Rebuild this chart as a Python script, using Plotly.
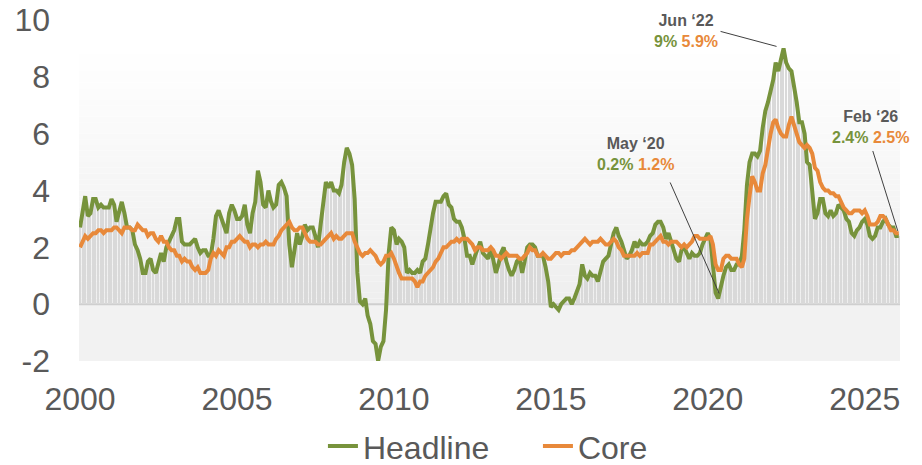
import numpy as np
import pandas as pd
import plotly.graph_objects as go

# ---- data (YoY %, monthly, Jan 2000 - Feb 2026) ----
headline = [
    2.7, 3.2, 3.8, 3.1, 3.2, 3.7, 3.7, 3.4, 3.5, 3.4, 3.4, 3.4,   # 2000
    3.7, 3.5, 2.9, 3.3, 3.6, 3.2, 2.7, 2.7, 2.6, 2.1, 1.9, 1.6,   # 2001
    1.1, 1.1, 1.5, 1.6, 1.2, 1.1, 1.5, 1.8, 1.5, 2.0, 2.2, 2.4,   # 2002
    2.6, 3.0, 3.0, 2.2, 2.1, 2.1, 2.1, 2.2, 2.3, 2.0, 1.8, 1.9,   # 2003
    1.9, 1.7, 1.7, 2.3, 3.1, 3.3, 3.0, 2.7, 2.5, 3.2, 3.5, 3.3,   # 2004
    3.0, 3.0, 3.1, 3.5, 2.8, 2.5, 3.2, 3.6, 4.7, 4.3, 3.5, 3.4,   # 2005
    4.0, 3.6, 3.4, 3.5, 4.2, 4.3, 4.1, 3.8, 2.1, 1.3, 2.0, 2.5,   # 2006
    2.1, 2.4, 2.8, 2.6, 2.7, 2.7, 2.4, 2.0, 2.8, 3.5, 4.3, 4.1,   # 2007
    4.3, 4.0, 4.0, 3.9, 4.2, 5.0, 5.5, 5.3, 4.9, 3.7, 1.1, 0.1,   # 2008
    0.0, 0.2, -0.4, -0.7, -1.3, -1.4, -2.0, -1.5, -1.3, -0.2, 1.8, 2.7,  # 2009
    2.6, 2.1, 2.3, 2.2, 2.0, 1.1, 1.2, 1.1, 1.1, 1.2, 1.1, 1.5,   # 2010
    1.6, 2.1, 2.7, 3.2, 3.6, 3.6, 3.6, 3.8, 3.9, 3.5, 3.4, 3.0,   # 2011
    2.9, 2.9, 2.7, 2.3, 1.7, 1.7, 1.4, 1.7, 2.0, 2.2, 1.8, 1.7,   # 2012
    1.6, 2.0, 1.5, 1.1, 1.4, 1.8, 2.0, 1.5, 1.2, 1.0, 1.2, 1.5,   # 2013
    1.6, 1.1, 1.5, 2.0, 2.1, 2.1, 2.0, 1.7, 1.7, 1.7, 1.3, 0.8,   # 2014
    -0.1, 0.0, -0.1, -0.2, 0.0, 0.1, 0.2, 0.2, 0.0, 0.2, 0.5, 0.7,  # 2015
    1.4, 1.0, 0.9, 1.1, 1.0, 1.0, 0.8, 1.1, 1.5, 1.6, 1.7, 2.1,   # 2016
    2.5, 2.7, 2.4, 2.2, 1.9, 1.6, 1.7, 1.9, 2.2, 2.0, 2.2, 2.1,   # 2017
    2.1, 2.2, 2.4, 2.5, 2.8, 2.9, 2.9, 2.7, 2.3, 2.5, 2.2, 1.9,   # 2018
    1.6, 1.5, 1.9, 2.0, 1.8, 1.6, 1.8, 1.7, 1.7, 1.8, 2.1, 2.3,   # 2019
    2.5, 2.3, 1.5, 0.4, 0.2, 0.7, 1.0, 1.3, 1.4, 1.2, 1.2, 1.4,   # 2020
    1.4, 1.7, 2.6, 4.2, 5.0, 5.3, 5.3, 5.2, 5.4, 6.2, 6.8, 7.1,   # 2021
    7.5, 7.9, 8.5, 8.2, 8.6, 9.0, 8.5, 8.3, 8.2, 7.7, 7.1, 6.4,   # 2022
    6.4, 6.0, 5.0, 4.9, 4.0, 3.0, 3.2, 3.7, 3.7, 3.2, 3.1, 3.3,   # 2023
    3.1, 3.2, 3.5, 3.4, 3.3, 3.0, 2.9, 2.5, 2.4, 2.6, 2.7, 2.9,   # 2024
    3.0, 2.8, 2.4, 2.3, 2.4, 2.7, 2.7, 2.9, 3.0, 2.8, 2.7, 2.7,   # 2025
    2.4, 2.4,                                                     # 2026
]
core = [
    2.0, 2.2, 2.4, 2.3, 2.4, 2.5, 2.5, 2.6, 2.6, 2.5, 2.6, 2.6,   # 2000
    2.6, 2.7, 2.7, 2.6, 2.5, 2.7, 2.7, 2.7, 2.6, 2.6, 2.8, 2.7,   # 2001
    2.6, 2.6, 2.4, 2.5, 2.5, 2.3, 2.2, 2.4, 2.2, 2.2, 2.0, 1.9,   # 2002
    1.9, 1.7, 1.7, 1.5, 1.6, 1.5, 1.5, 1.3, 1.2, 1.3, 1.1, 1.1,   # 2003
    1.1, 1.2, 1.6, 1.8, 1.7, 1.9, 1.8, 1.7, 2.0, 2.0, 2.2, 2.2,   # 2004
    2.3, 2.4, 2.3, 2.2, 2.2, 2.0, 2.1, 2.1, 2.0, 2.1, 2.1, 2.2,   # 2005
    2.1, 2.1, 2.1, 2.3, 2.4, 2.6, 2.7, 2.8, 2.9, 2.7, 2.6, 2.6,   # 2006
    2.7, 2.7, 2.5, 2.3, 2.2, 2.2, 2.2, 2.1, 2.1, 2.2, 2.3, 2.4,   # 2007
    2.5, 2.3, 2.4, 2.3, 2.3, 2.4, 2.5, 2.5, 2.5, 2.2, 2.0, 1.8,   # 2008
    1.7, 1.8, 1.8, 1.9, 1.8, 1.7, 1.5, 1.4, 1.5, 1.7, 1.7, 1.8,   # 2009
    1.6, 1.3, 1.1, 0.9, 0.9, 0.9, 0.9, 0.9, 0.8, 0.6, 0.8, 0.8,   # 2010
    1.0, 1.1, 1.2, 1.3, 1.5, 1.6, 1.8, 2.0, 2.0, 2.1, 2.2, 2.2,   # 2011
    2.3, 2.2, 2.3, 2.3, 2.3, 2.2, 2.1, 1.9, 2.0, 2.0, 1.9, 1.9,   # 2012
    1.9, 2.0, 1.9, 1.7, 1.7, 1.6, 1.7, 1.8, 1.7, 1.7, 1.7, 1.7,   # 2013
    1.6, 1.6, 1.7, 1.8, 2.0, 1.9, 1.9, 1.7, 1.7, 1.8, 1.7, 1.6,   # 2014
    1.6, 1.7, 1.8, 1.8, 1.7, 1.8, 1.8, 1.8, 1.9, 1.9, 2.0, 2.1,   # 2015
    2.2, 2.3, 2.2, 2.1, 2.2, 2.2, 2.2, 2.3, 2.2, 2.1, 2.1, 2.2,   # 2016
    2.3, 2.2, 2.0, 1.9, 1.7, 1.7, 1.7, 1.7, 1.7, 1.8, 1.7, 1.8,   # 2017
    1.8, 1.8, 2.1, 2.1, 2.2, 2.3, 2.4, 2.2, 2.2, 2.1, 2.2, 2.2,   # 2018
    2.2, 2.1, 2.0, 2.1, 2.0, 2.1, 2.2, 2.4, 2.4, 2.3, 2.3, 2.3,   # 2019
    2.3, 2.4, 2.1, 1.4, 1.2, 1.2, 1.6, 1.7, 1.7, 1.6, 1.6, 1.6,   # 2020
    1.4, 1.3, 1.6, 3.0, 3.8, 4.5, 4.3, 4.0, 4.0, 4.6, 4.9, 5.5,   # 2021
    6.0, 6.4, 6.5, 6.2, 6.0, 5.9, 5.9, 6.3, 6.6, 6.3, 6.0, 5.7,   # 2022
    5.6, 5.5, 5.6, 5.5, 5.3, 4.8, 4.7, 4.3, 4.1, 4.0, 4.0, 3.9,   # 2023
    3.9, 3.8, 3.8, 3.6, 3.4, 3.3, 3.2, 3.2, 3.3, 3.3, 3.3, 3.2,   # 2024
    3.3, 3.1, 2.8, 2.8, 2.8, 2.9, 3.1, 3.1, 3.0, 2.8, 2.6, 2.6,   # 2025
    2.5, 2.5,                                                     # 2026
]
dates = pd.date_range("2000-01-01", periods=len(headline), freq="MS")

x_tick_vals = ["2000-01-01", "2005-01-01", "2010-01-01", "2015-01-01", "2020-01-01", "2025-01-01"]
x_tick_text = ["2000", "2005", "2010", "2015", "2020", "2025"]
y_tick_vals = [-2, 0, 2, 4, 6, 8, 10]
y_tick_text = ["-2", "0", "2", "4", "6", "8", "10"]

callout_dates = ["2020-05-01", "2022-06-01", "2026-02-01"]
callout_labels = ["May ‘20", "Jun ‘22", "Feb ‘26"]
callout_head_txt = ["0.2%", "9%", "2.4%"]
callout_core_txt = ["1.2%", "5.9%", "2.5%"]

GREEN = "#77933C"
ORANGE = "#E8893A"
GREY_TXT = "#595959"
FONT = "Liberation Sans, Arial, sans-serif"

fig = go.Figure()

# background bars (headline, positive part)
fig.add_trace(go.Bar(
    x=dates, y=np.clip(np.array(headline), 0, None),
    marker=dict(color="#d9d9d9", line=dict(width=0)),
    width=16 * 24 * 3600 * 1000, showlegend=False, hoverinfo="skip",
))
fig.add_trace(go.Scatter(x=dates, y=headline, mode="lines", name="Headline",
                         line=dict(color=GREEN, width=4)))
fig.add_trace(go.Scatter(x=dates, y=core, mode="lines", name="Core",
                         line=dict(color=ORANGE, width=4)))

# background gradient (decorative)
shapes = []
shapes.append(dict(type="rect", xref="paper", yref="y", x0=0, x1=1, y0=-2, y1=0,
                   fillcolor="#f2f2f2", line=dict(width=0), layer="below"))
n = 45
top = 9.0
for i in range(n):
    y0 = top * i / n
    y1 = top * (i + 1) / n
    t = (i + 0.5) / n
    c = int(round(238 + (255 - 238) * t))
    shapes.append(dict(type="rect", xref="paper", yref="y", x0=0, x1=1, y0=y0, y1=y1,
                       fillcolor=f"rgb({c},{c},{c})", line=dict(width=0), layer="below"))
shapes.append(dict(type="line", xref="paper", yref="y", x0=0, x1=1, y0=0, y1=0,
                   line=dict(color="#cfcfcf", width=2), layer="below"))

# callouts
text_off = [(-83, 144), (-98, 17), (-28, 109)]
line_off = [((1, 5), (-48, 116)), ((-7, 2), (-63, 17)), ((-1, 5), (-26, 85))]
annotations = []
for d, lab, ht, ct, (tx, ty), ((lx0, ly0), (lx1, ly1)) in zip(
        callout_dates, callout_labels, callout_head_txt, callout_core_txt, text_off, line_off):
    idx = list(dates).index(pd.Timestamp(d))
    yv = headline[idx]
    annotations.append(dict(
        x=d, y=yv, xref="x", yref="y", showarrow=False, xshift=tx, yshift=ty,
        text=f"<b>{lab}</b><br><b><span style='color:{GREEN}'>{ht}</span> "
             f"<span style='color:{ORANGE}'>{ct}</span></b>",
        font=dict(family=FONT, size=16, color=GREY_TXT), align="center",
        xanchor="center", yanchor="middle"))
    shapes.append(dict(type="line", xref="x", yref="y", xsizemode="pixel", ysizemode="pixel",
                       xanchor=d, yanchor=yv, x0=lx0, y0=ly0, x1=lx1, y1=ly1,
                       line=dict(color="#404040", width=1)))

fig.update_layout(
    width=922, height=465,
    margin=dict(l=79, r=22, t=20, b=104, autoexpand=False),
    paper_bgcolor="white", plot_bgcolor="white",
    font=dict(family=FONT, size=32, color=GREY_TXT),
    bargap=0,
    shapes=shapes, annotations=annotations,
    legend=dict(orientation="h", x=0.559, xanchor="center", y=-0.25, yanchor="middle",
                entrywidth=170, entrywidthmode="pixels",
                font=dict(size=32, color=GREY_TXT), bgcolor="rgba(0,0,0,0)"),
    xaxis=dict(type="date", range=["1999-12-20", "2026-02-15"], tickvals=x_tick_vals,
               ticktext=x_tick_text, showgrid=False, zeroline=False, showline=False,
               automargin=False,
               ticks="", tickfont=dict(size=32, color=GREY_TXT), ticklabelstandoff=16),
    yaxis=dict(range=[-2, 10], tickvals=y_tick_vals, ticktext=y_tick_text, showgrid=False,
               zeroline=False, showline=False, ticks="", automargin=False,
               tickfont=dict(size=32, color=GREY_TXT), ticklabelstandoff=28),
)

fig.write_html("out.html", config={"displayModeBar": False},
               post_script="document.body.style.margin='0';document.body.style.overflow='hidden';")
